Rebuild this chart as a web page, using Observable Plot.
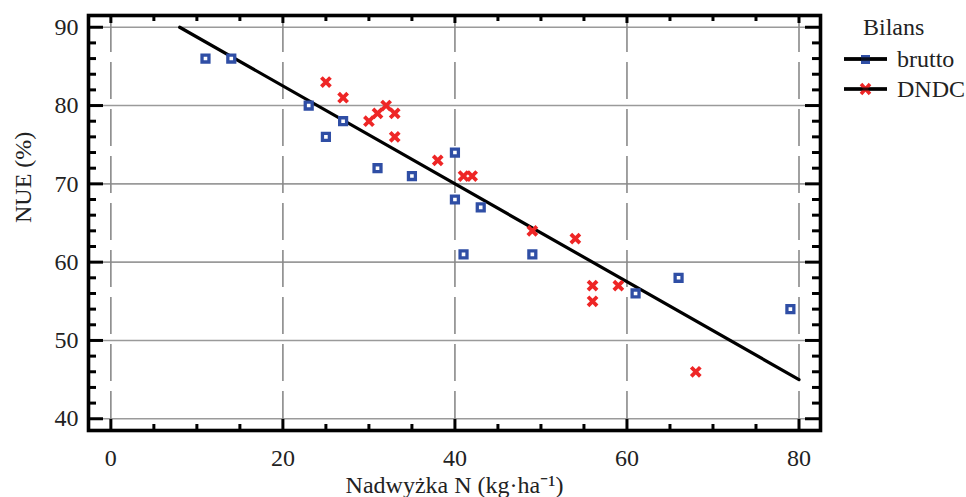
<!DOCTYPE html>
<html><head><meta charset="utf-8">
<script src="https://cdn.jsdelivr.net/npm/d3@7"></script>
<script src="https://cdn.jsdelivr.net/npm/@observablehq/plot@0.6"></script>
<style>
body{margin:0;background:#fff;}
#wrap{position:relative;width:966px;height:497px;font-family:"Liberation Serif","Times New Roman",serif;color:#222;}
#legend{position:absolute;left:843px;top:12px;font-size:24px;line-height:30px;}
#legend .title{padding-left:20px;margin-bottom:2px;}
#legend .row{display:flex;align-items:center;}
#legend .row svg{margin-right:9px;}
</style></head><body><div id="wrap"><div id="chart"></div><div id="legend"></div></div>
<script>
// Data
const bruttoX = [11, 14, 23, 25, 27, 31, 35, 40, 40, 43, 41, 49, 61, 66, 79];
const bruttoY = [86, 86, 80, 76, 78, 72, 71, 74, 68, 67, 61, 61, 56, 58, 54];
const dndcX = [25, 27, 30, 31, 32, 33, 33, 38, 41, 42, 49, 54, 56, 56, 59, 68];
const dndcY = [83, 81, 78, 79, 80, 79, 76, 73, 71, 71, 64, 63, 57, 55, 57, 46];
const trendX = [8, 80];
const trendY = [90, 45];
const xTicks = [0, 20, 40, 60, 80];
const yTicks = [40, 50, 60, 70, 80, 90];
const xMinorTicks = [5, 10, 15, 25, 30, 35, 45, 50, 55, 65, 70, 75];
const yMinorTicks = [42, 44, 46, 48, 52, 54, 56, 58, 62, 64, 66, 68, 72, 74, 76, 78, 82, 84, 86, 88];
const seriesNames = ["brutto", "DNDC"];
const legendTitle = "Bilans";
const xLabel = "Nadwyżka N (kg·ha⁻¹)";
const yLabel = "NUE (%)";

const brutto = bruttoX.map((x, i) => ({x, y: bruttoY[i]}));
const dndc = dndcX.map((x, i) => ({x, y: dndcY[i]}));
const trend = trendX.map((x, i) => ({x, y: trendY[i]}));

const W = 966, H = 497, mL = 88, mR = 146, mT = 15, mB = 67;
const pw = W - mL - mR, ph = H - mT - mB;
const blue = "#2f4ea5", red = "#ee2626";
const majorLen = 11, minorLen = 6;
const serif = '"Liberation Serif","Times New Roman",serif';

const chart = Plot.plot({
  width: W, height: H,
  marginLeft: mL, marginRight: mR, marginTop: mT, marginBottom: mB,
  style: {fontFamily: serif, fontSize: "24px", color: "#222", background: "white"},
  x: {domain: [-2.6, 82.5]},
  y: {domain: [38.5, 91.5]},
  marks: [
    Plot.gridY(yTicks, {stroke: "#9a9a9a", strokeOpacity: 1, strokeWidth: 1.6}),
    Plot.gridX(xTicks, {stroke: "#8a8a8a", strokeOpacity: 1, strokeWidth: 1.6, strokeDasharray: "37,10"}),
    Plot.line(trend, {x: "x", y: "y", stroke: "black", strokeWidth: 3.2}),
    Plot.dot(brutto, {x: "x", y: "y", symbol: "square", r: 3.9, stroke: blue, strokeWidth: 3.3, fill: "white"}),
    Plot.dot(dndc, {x: "x", y: "y", symbol: "times", r: 4.2, stroke: red, strokeWidth: 3.8}),
    // inward ticks
    Plot.tickX(xTicks, {x: d => d, insetTop: ph - majorLen, stroke: "black", strokeWidth: 3}),
    Plot.tickX(xMinorTicks, {x: d => d, insetTop: ph - minorLen, stroke: "black", strokeWidth: 3}),
    Plot.tickX(xTicks, {x: d => d, insetBottom: ph - majorLen + 3, stroke: "black", strokeWidth: 3}),
    Plot.tickX(xMinorTicks, {x: d => d, insetBottom: ph - minorLen, stroke: "black", strokeWidth: 3}),
    Plot.tickY(yTicks, {y: d => d, insetRight: pw - majorLen - 4, stroke: "black", strokeWidth: 3}),
    Plot.tickY(yMinorTicks, {y: d => d, insetRight: pw - minorLen - 2, stroke: "black", strokeWidth: 3}),
    Plot.tickY(yTicks, {y: d => d, insetLeft: pw - majorLen - 4, stroke: "black", strokeWidth: 3}),
    Plot.tickY(yMinorTicks, {y: d => d, insetLeft: pw - minorLen - 2, stroke: "black", strokeWidth: 3}),
    Plot.frame({stroke: "black", strokeWidth: 3.6}),
    Plot.axisX(xTicks, {tickSize: 0, tickPadding: 18, label: null, fontSize: 24, fontFamily: serif, fill: "#222"}),
    Plot.axisY(yTicks, {tickSize: 0, tickPadding: 10, label: null, fontSize: 24, fontFamily: serif, fill: "#222"}),
    Plot.text([xLabel], {frameAnchor: "bottom", lineAnchor: "middle", dy: 55, fontSize: 24, fontFamily: serif, fill: "#222"}),
    Plot.text([yLabel], {frameAnchor: "left", lineAnchor: "middle", dx: -65, rotate: -90, fontSize: 24, fontFamily: serif, fill: "#222"})
  ]
});
document.getElementById("chart").appendChild(chart);

// Legend
const legend = document.getElementById("legend");
const t = document.createElement("div");
t.className = "title"; t.textContent = legendTitle;
legend.appendChild(t);
const swatches = [
  `<svg width="45" height="20"><line x1="1" x2="44" y1="10" y2="10" stroke="black" stroke-width="3.5"/><rect x="18" y="6" width="9" height="9" fill="${blue}"/><line x1="1" x2="44" y1="10" y2="10" stroke="black" stroke-width="3.5" stroke-opacity="0.8"/></svg>`,
  `<svg width="45" height="20"><line x1="1" x2="44" y1="10" y2="10" stroke="black" stroke-width="3.5"/><path d="M18,5L27,15M27,5L18,15" stroke="${red}" stroke-width="3.5"/><line x1="1" x2="44" y1="10" y2="10" stroke="black" stroke-width="3" stroke-opacity="0.8"/></svg>`
];
seriesNames.forEach((name, i) => {
  const r = document.createElement("div");
  r.className = "row";
  r.innerHTML = swatches[i] + `<span>${name}</span>`;
  legend.appendChild(r);
});
</script></body></html>
